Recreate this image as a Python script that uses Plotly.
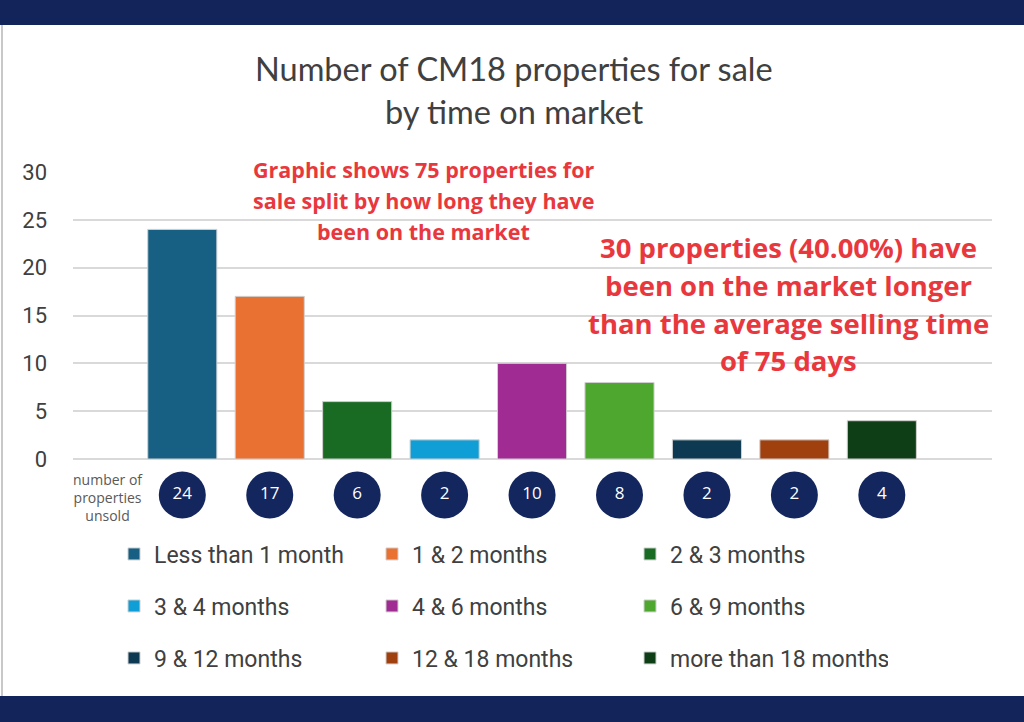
import plotly.graph_objects as go

# data
categorias = ["Less than 1 month", "1 & 2 months", "2 & 3 months",
              "3 & 4 months", "4 & 6 months", "6 & 9 months",
              "9 & 12 months", "12 & 18 months", "more than 18 months"]
imoveis = [24, 17, 6, 2, 10, 8, 2, 2, 4]
cores = ["#176083", "#e97132", "#196b24", "#0f9ed5", "#a02b93",
         "#4ea72e", "#0d3a52", "#a0400f", "#0e3e15"]
ticks_y = [0, 5, 10, 15, 20, 25, 30]

titulo = ["Number of CM18 properties for sale", "by time on market"]
nota1 = ["Graphic shows 75 properties for", "sale split by how long they have",
         "been on the market"]
nota2 = ["30 properties (40.00%) have", "been on the market longer",
         "than the average selling time", "of 75 days"]

W, H = 1024, 722
ML, MR, MT, MB = 73, 32, 25, 26
PH = H - MT - MB


def py(pix):
    # pixel y on the page -> paper y
    return (H - MB - pix) / PH


def px_(pix):
    return (pix - ML) / (W - ML - MR)


fig = go.Figure()

legendas = ["legend", "legend2", "legend3"]
for i, (cat, val, cor) in enumerate(zip(categorias, imoveis, cores)):
    fig.add_trace(go.Bar(
        x=[cat], y=[val], name=cat, width=0.79,
        marker=dict(color=cor, line=dict(color="#d0d0d0", width=1)),
        legend=legendas[i // 3], hoverinfo="x+y"))

# circles with the counts below the axis
fig.add_trace(go.Scatter(
    x=categorias, y=[0] * len(categorias), yaxis="y2",
    mode="markers+text", text=[str(v) for v in imoveis],
    textposition="middle center",
    textfont=dict(family="Open Sans", size=17, color="white"),
    marker=dict(size=47, color="#13265e"),
    showlegend=False, cliponaxis=False, hoverinfo="skip"))

anots = []
for k, linha in enumerate(titulo):
    anots.append(dict(text=linha, x=px_(514), y=py(68 + 44 * k),
                      font=dict(family="Lato", size=32.5, color="#404040")))
for k, linha in enumerate(nota1):
    anots.append(dict(text="<b>" + linha + "</b>", x=px_(423), y=py(170 + 30.5 * k),
                      font=dict(family="Open Sans", size=21.5, color="#e8383d")))
for k, linha in enumerate(nota2):
    anots.append(dict(text="<b>" + linha + "</b>", x=px_(788), y=py(248 + 37.5 * k),
                      font=dict(family="Open Sans", size=27.5, color="#e8383d")))
anots.append(dict(text="number of<br>properties<br>unsold", x=px_(108), y=py(497),
                  font=dict(family="Open Sans", size=14, color="#595959")))
for a in anots:
    a.update(xref="paper", yref="paper", showarrow=False,
             xanchor="center", yanchor="middle")

leg_base = dict(orientation="h", xanchor="left", yanchor="middle",
                entrywidth=213, bgcolor="rgba(0,0,0,0)",
                font=dict(family="Roboto", size=23, color="#404040"))
linhas_leg = [554, 606, 658]

fig.update_layout(
    width=W, height=H,
    margin=dict(l=ML, r=MR, t=MT, b=MB),
    paper_bgcolor="white", plot_bgcolor="white",
    barmode="overlay",
    showlegend=True,
    xaxis=dict(type="category", range=[-1.25, 9.26], showticklabels=False,
               showgrid=False, zeroline=False, showline=False, ticks=""),
    yaxis=dict(range=[0, 30], tickvals=ticks_y, domain=[py(459), py(172)],
               showgrid=True, gridcolor="#d9d9d9", gridwidth=1.5,
               zeroline=True, zerolinecolor="#d9d9d9", zerolinewidth=1.5,
               ticks="", ticklabelstandoff=25, showline=False,
               tickfont=dict(family="Roboto", size=22, color="#404040")),
    yaxis2=dict(range=[-1, 1], domain=[py(519), py(471)], visible=False,
                anchor="x"),
    legend=dict(leg_base, x=px_(114), y=py(linhas_leg[0])),
    legend2=dict(leg_base, x=px_(114), y=py(linhas_leg[1])),
    legend3=dict(leg_base, x=px_(114), y=py(linhas_leg[2])),
    annotations=anots,
    shapes=[
        dict(type="rect", xref="paper", yref="paper", x0=-0.2, x1=1.2,
             y0=1, y1=1 + MT / PH + 0.01, fillcolor="#13245a", line_width=0,
             layer="below"),
        dict(type="rect", xref="paper", yref="paper", x0=-0.2, x1=1.2,
             y0=-MB / PH - 0.01, y1=0, fillcolor="#13245a", line_width=0,
             layer="below"),
        dict(type="line", xref="paper", yref="paper", x0=px_(2), x1=px_(2),
             y0=0, y1=1, line=dict(color="#c8c8c8", width=2)),
    ],
)

# page margin off so the figure fills the window
fig.write_html("out.html", config={"displayModeBar": False},
               post_script="document.body.style.margin='0';")
